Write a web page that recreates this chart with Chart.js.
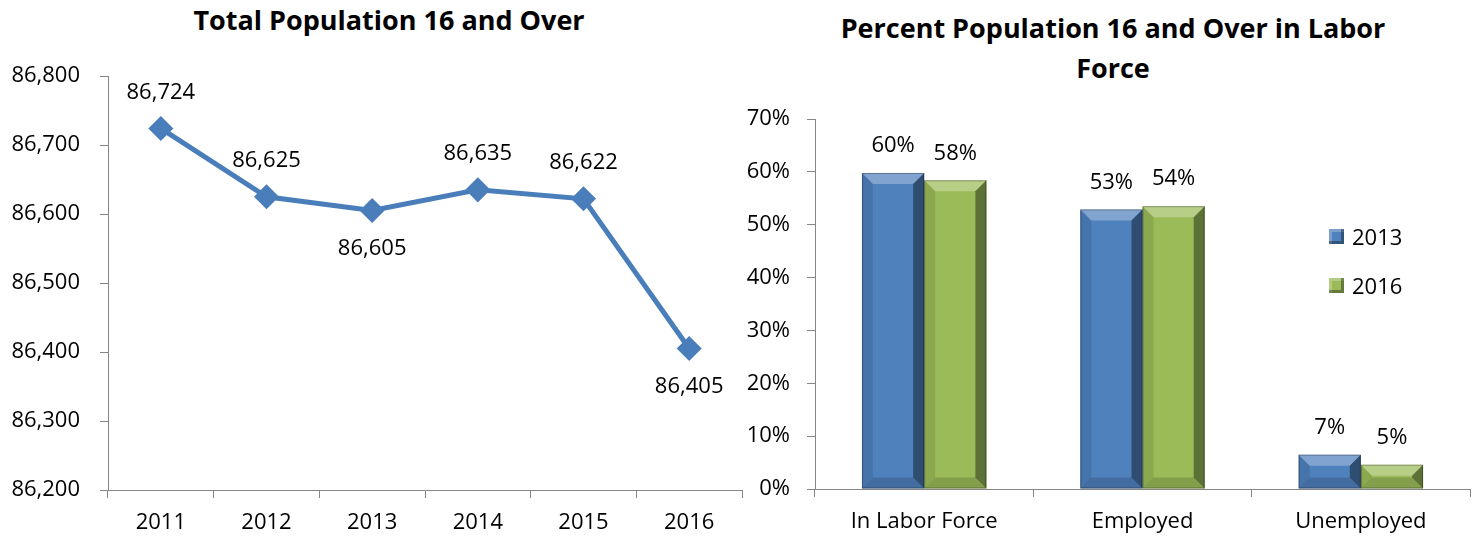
<!DOCTYPE html>
<html lang="en">
<head>
    <meta charset="UTF-8">
    <title>Population 16 and Over</title>
    <script src="https://cdn.jsdelivr.net/npm/chart.js"></script>
    <style>
        * { margin: 0; padding: 0; box-sizing: border-box; }
        body {
            width: 1476px;
            height: 539px;
            background: #fff;
            font-family: 'Open Sans', 'Liberation Sans', sans-serif;
            color: #000;
            position: relative;
            overflow: hidden;
        }
        .panel { position: absolute; top: 0; height: 539px; }
        .title {
            position: absolute;
            font-weight: bold;
            font-size: 27px;
            text-align: center;
            white-space: nowrap;
            transform: translateX(-50%);
            line-height: 40px;
        }
        .legend-item {
            position: absolute;
            font-size: 22px;
            line-height: 26px;
            display: flex;
            align-items: center;
        }
        .legend-item span.box {
            display: inline-block;
            width: 15px;
            height: 15px;
            margin-right: 8px;
            box-shadow: inset -3px -3px 0 rgba(0,0,0,0.35), inset 3px 3px 0 rgba(255,255,255,0.25);
        }
    </style>
</head>
<body>
    <div class="title" style="left:389px; top:0px;">Total Population 16 and Over</div>
    <div class="title" style="left:1113px; top:8px;">Percent Population 16 and Over in Labor<br>Force</div>

    <!-- the line chart keeps room for its end marker, so its canvas is a bit wider -->
    <div class="panel" style="left:0; width:756px;">
        <canvas id="popChart" width="756" height="539"></canvas>
    </div>
    <div class="panel" style="left:740px; width:736px;">
        <canvas id="laborChart" width="736" height="539"></canvas>
    </div>
    <div id="legend"></div>

    <script>
        // Data
        const years = ['2011', '2012', '2013', '2014', '2015', '2016'];
        const population = [86724, 86625, 86605, 86635, 86622, 86405];

        const laborCategories = ['In Labor Force', 'Employed', 'Unemployed'];
        const seriesNames = ['2013', '2016'];
        const pct2013 = [59.8, 52.9, 6.5];
        const pct2016 = [58.4, 53.5, 4.6];

        const FONT = "'Open Sans', 'Liberation Sans', sans-serif";
        const AXIS = '#868686';
        const BLUE = '#4F81BD';
        const GREEN = '#9BBB59';

        Chart.defaults.font.family = FONT;
        Chart.defaults.color = '#000';

        const fmt = v => v.toLocaleString('en-US');

        // labels above / below the line points
        const pointLabels = {
            id: 'pointLabels',
            afterDatasetsDraw(chart) {
                const below = [false, false, true, false, false, true];
                const ctx = chart.ctx;
                const meta = chart.getDatasetMeta(0);
                ctx.save();
                ctx.font = '22px ' + FONT;
                ctx.fillStyle = '#000';
                ctx.textAlign = 'center';
                ctx.textBaseline = 'middle';
                meta.data.forEach((pt, i) => {
                    const dy = below[i] ? 38 : -36;
                    ctx.fillText(fmt(population[i]), pt.x, pt.y + dy);
                });
                ctx.restore();
            }
        };

        // bevelled bars + value labels
        const bevelBars = {
            id: 'bevelBars',
            afterDatasetsDraw(chart) {
                const ctx = chart.ctx;
                ctx.save();
                chart.data.datasets.forEach((ds, di) => {
                    chart.getDatasetMeta(di).data.forEach((bar, i) => {
                        const x0 = bar.x - bar.width / 2, x1 = bar.x + bar.width / 2;
                        const y0 = bar.y, y1 = bar.base;
                        const b = Math.min(11, (y1 - y0) / 2);
                        const poly = (pts, fill) => {
                            ctx.beginPath();
                            ctx.moveTo(pts[0][0], pts[0][1]);
                            pts.slice(1).forEach(p => ctx.lineTo(p[0], p[1]));
                            ctx.closePath();
                            ctx.fillStyle = fill;
                            ctx.fill();
                        };
                        poly([[x0, y0], [x1, y0], [x1 - b, y0 + b], [x0 + b, y0 + b]], 'rgba(255,255,255,0.28)');
                        poly([[x0, y0], [x0 + b, y0 + b], [x0 + b, y1 - b], [x0, y1]], 'rgba(0,0,0,0.10)');
                        poly([[x1, y0], [x1, y1], [x1 - b, y1 - b], [x1 - b, y0 + b]], 'rgba(0,0,0,0.40)');
                        poly([[x0, y1], [x1, y1], [x1 - b, y1 - b], [x0 + b, y1 - b]], 'rgba(0,0,0,0.15)');
                        ctx.strokeStyle = 'rgba(0,0,0,0.3)';
                        ctx.lineWidth = 1;
                        ctx.strokeRect(x0 + 0.5, y0 + 0.5, bar.width - 1, y1 - y0 - 1);

                        ctx.font = '22px ' + FONT;
                        ctx.fillStyle = '#000';
                        ctx.textAlign = 'center';
                        ctx.textBaseline = 'middle';
                        ctx.fillText(Math.round(ds.data[i]) + '%', bar.x, y0 - 27);
                    });
                });
                ctx.restore();
            }
        };

        const tickFont = { size: 22 };

        // Total Population 16 and Over
        new Chart(document.getElementById('popChart'), {
            type: 'line',
            data: {
                labels: years,
                datasets: [{
                    label: 'Population',
                    data: population,
                    borderColor: '#4A7EBB',
                    backgroundColor: '#4A7EBB',
                    borderWidth: 5,
                    pointStyle: 'rectRot',
                    pointRadius: 9,
                    pointBackgroundColor: '#4A7EBB',
                    pointBorderColor: '#4A7EBB',
                    tension: 0
                }]
            },
            options: {
                responsive: false,
                animation: false,
                layout: { padding: { top: 76, right: 0, bottom: 0, left: 0 } },
                plugins: { legend: { display: false }, tooltip: { enabled: false } },
                scales: {
                    x: {
                        offset: true,
                        afterFit: s => { s.height = 49; s.paddingLeft = 0; s.paddingRight = 0; },
                        grid: { offset: true, drawOnChartArea: false, tickLength: 8, color: AXIS },
                        border: { color: AXIS },
                        ticks: { font: tickFont, padding: 12 }
                    },
                    y: {
                        min: 86200,
                        max: 86800,
                        afterFit: s => { s.width = 108; },
                        grid: { drawOnChartArea: false, tickLength: 8, color: AXIS },
                        border: { color: AXIS },
                        ticks: { stepSize: 100, font: tickFont, padding: 20, callback: v => fmt(v) }
                    }
                }
            },
            plugins: [pointLabels]
        });

        // Percent Population 16 and Over in Labor Force
        new Chart(document.getElementById('laborChart'), {
            type: 'bar',
            data: {
                labels: laborCategories,
                datasets: [
                    { label: seriesNames[0], data: pct2013, backgroundColor: BLUE },
                    { label: seriesNames[1], data: pct2016, backgroundColor: GREEN }
                ]
            },
            options: {
                responsive: false,
                animation: false,
                categoryPercentage: 0.57,
                barPercentage: 1.0,
                layout: { padding: { top: 119, right: 6, bottom: 0, left: 0 } },
                plugins: { legend: { display: false }, tooltip: { enabled: false } },
                scales: {
                    x: {
                        afterFit: s => { s.height = 50; s.paddingLeft = 0; s.paddingRight = 0; },
                        grid: { drawOnChartArea: false, tickLength: 8, color: AXIS },
                        border: { color: AXIS },
                        ticks: { font: tickFont, padding: 12 }
                    },
                    y: {
                        min: 0,
                        max: 70,
                        afterFit: s => { s.width = 75; },
                        grid: { drawOnChartArea: false, tickLength: 8, color: AXIS },
                        border: { color: AXIS },
                        ticks: { stepSize: 10, font: tickFont, padding: 17, callback: v => v + '%' }
                    }
                }
            },
            plugins: [bevelBars]
        });

        // legend
        const legendColors = [BLUE, GREEN];
        const legendTops = [223, 272];
        document.getElementById('legend').innerHTML = seriesNames.map((name, i) =>
            '<div class="legend-item" style="left:1329px; top:' + legendTops[i] + 'px;">' +
            '<span class="box" style="background:' + legendColors[i] + '"></span>' + name + '</div>'
        ).join('');
    </script>
</body>
</html>
